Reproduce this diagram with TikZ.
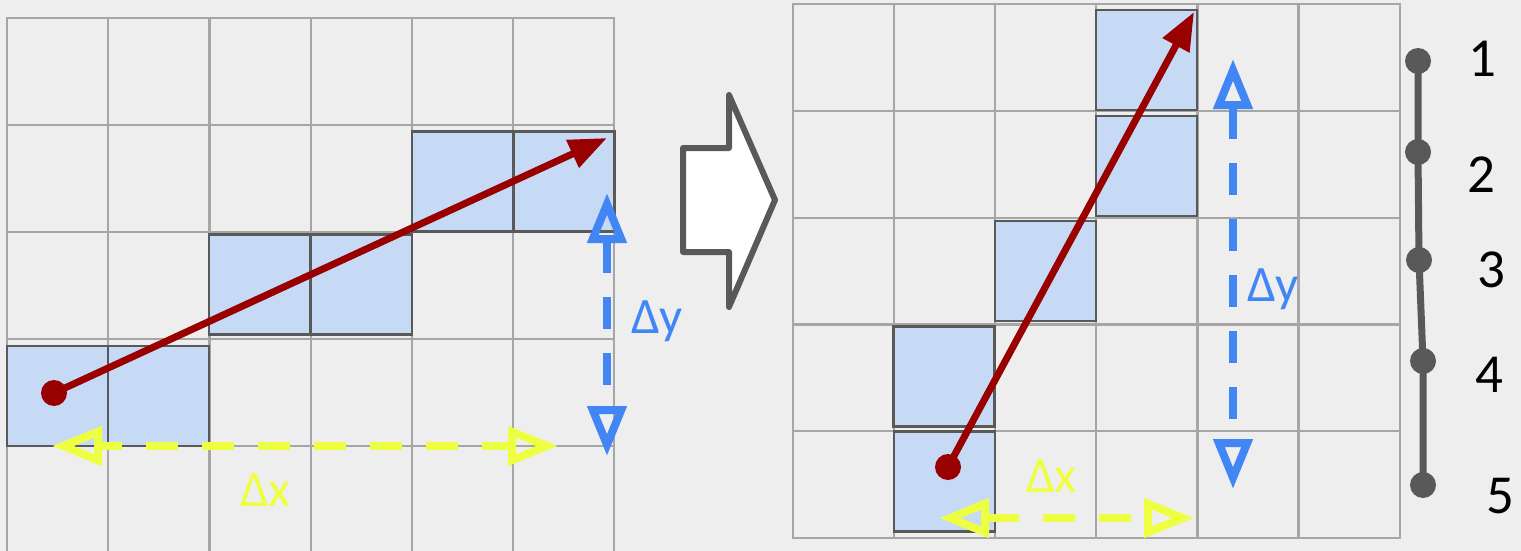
\documentclass[tikz,border=0pt]{standalone}
\usepackage{fontspec}
\setmainfont{Carlito}
\usetikzlibrary{arrows.meta}
\definecolor{bgc}{RGB}{238,238,238}
\definecolor{gridc}{RGB}{166,166,166}
\definecolor{cellfill}{RGB}{199,218,245}
\definecolor{cellborder}{RGB}{89,89,89}
\definecolor{darkredc}{RGB}{153,0,0}
\definecolor{yelc}{RGB}{238,255,65}
\definecolor{bluec}{RGB}{66,133,244}
\definecolor{chainc}{RGB}{89,89,89}
\begin{document}
\begin{tikzpicture}[x=1pt,y=-1pt,
  gridline/.style={draw=gridc,line width=2.2pt},
  cellbox/.style={draw=cellborder,fill=cellfill,line width=2.4pt,minimum width=101pt,minimum height=100pt,inner sep=0pt,outer sep=0pt},
  reddot/.style={circle,fill=darkredc,minimum size=26pt,inner sep=0pt},
  redarrow/.style={draw=darkredc,line width=7pt,-{Triangle[length=38pt,width=29pt]}},
  yarrow/.style={draw=yelc,line width=7.5pt,dash pattern=on 32pt off 24pt,{Triangle[open,length=50pt,width=38pt,line width=8pt]}-{Triangle[open,length=50pt,width=38pt,line width=8pt]}},
  barrow/.style={draw=bluec,line width=7.5pt,dash pattern=on 32pt off 24pt,{Triangle[open,length=50pt,width=38pt,line width=8pt]}-{Triangle[open,length=50pt,width=38pt,line width=8pt]}},
  lbl/.style={inner sep=0pt,font=\fontsize{51}{60}\selectfont},
  digit/.style={inner sep=0pt,anchor=base west,font=\fontsize{55}{64}\selectfont},
  chaindot/.style={circle,fill=chainc,minimum size=26pt,inner sep=0pt},
  chainline/.style={draw=chainc,line width=7pt},
  bigarrow/.style={draw=chainc,fill=white,line width=6pt,line join=round}
]
\useasboundingbox[fill=bgc] (0,0) rectangle (1521,551);

% left grid
\foreach \i in {0,...,6} \draw[gridline] ({7+101.2*\i},18) -- ({7+101.2*\i},551);
\foreach \j in {0,...,4} \draw[gridline] (6,{18+107*\j}) -- (615.2,{18+107*\j});

% right grid
\foreach \i in {0,...,6} \draw[gridline] ({793+101.1*\i},4) -- ({793+101.1*\i},538);
\foreach \j in {0,...,5} \draw[gridline] (792,{4+106.8*\j}) -- (1400.6,{4+106.8*\j});

% left cells
\node[cellbox] (L1) at (57.5,396) {};
\node[cellbox] (L2) at (158.5,396) {};
\node[cellbox] (L3) at (259.5,284.5) {};
\node[cellbox] (L4) at (361.5,284.5) {};
\node[cellbox] (L5) at (462.5,181.5) {};
\node[cellbox] (L6) at (564,181.5) {};

% right cells
\node[cellbox] (R1) at (1146.5,60) {};
\node[cellbox] (R2) at (1146.5,166) {};
\node[cellbox] (R3) at (1045.5,271) {};
\node[cellbox] (R4) at (944,376.5) {};
\node[cellbox] (R5) at (944.5,481.5) {};

% big arrow
\draw[bigarrow] (683,148) -- (729,148) -- (729,95) -- (775,200) -- (729,307) -- (729,252) -- (683,252) -- cycle;

% left red arrow
\node[reddot] (dL) at (54,393) {};
\coordinate (tL) at (607,138);
\draw[redarrow] (dL.center) -- (tL);

% right red arrow
\node[reddot] (dR) at (948,467) {};
\coordinate (tR) at (1194,12);
\draw[redarrow] (dR.center) -- (tR);

% left delta arrows
\coordinate (xL1) at (52,446);
\coordinate (xL2) at (558,446);
\draw[yarrow,dash phase=10pt] (xL1) -- (xL2);
\coordinate (yL1) at (607,193);
\coordinate (yL2) at (607,456);
\draw[barrow] (yL1) -- (yL2);

% right delta arrows
\coordinate (xR1) at (939,518);
\coordinate (xR2) at (1194,518);
\draw[yarrow] (xR1) -- (xR2);
\coordinate (yR1) at (1233,59);
\coordinate (yR2) at (1233,489);
\draw[barrow] (yR1) -- (yR2);

% labels
\node[lbl,text=yelc,anchor=base west] (dxL) at (240,506) {Δx};
\node[lbl,text=bluec,anchor=base west] (dyL) at (631,333) {Δy};
\node[lbl,text=yelc,anchor=base west] (dxR) at (1026,492) {Δx};
\node[lbl,text=bluec,anchor=base west] (dyR) at (1247,301) {Δy};

% chain
\node[chaindot] (p1) at (1418,61) {};
\node[chaindot] (p2) at (1418,152) {};
\node[chaindot] (p3) at (1419,260) {};
\node[chaindot] (p4) at (1423,361) {};
\node[chaindot] (p5) at (1423,485) {};
\draw[chainline] (p1.center) -- (p2.center) -- (p3.center) -- (p4.center) -- (p5.center);

\node[digit] (n1) at (1468,77) {1};
\node[digit] (n2) at (1467,192) {2};
\node[digit] (n3) at (1477,287) {3};
\node[digit] (n4) at (1475,392) {4};
\node[digit] (n5) at (1486,513) {5};
\end{tikzpicture}
\end{document}
